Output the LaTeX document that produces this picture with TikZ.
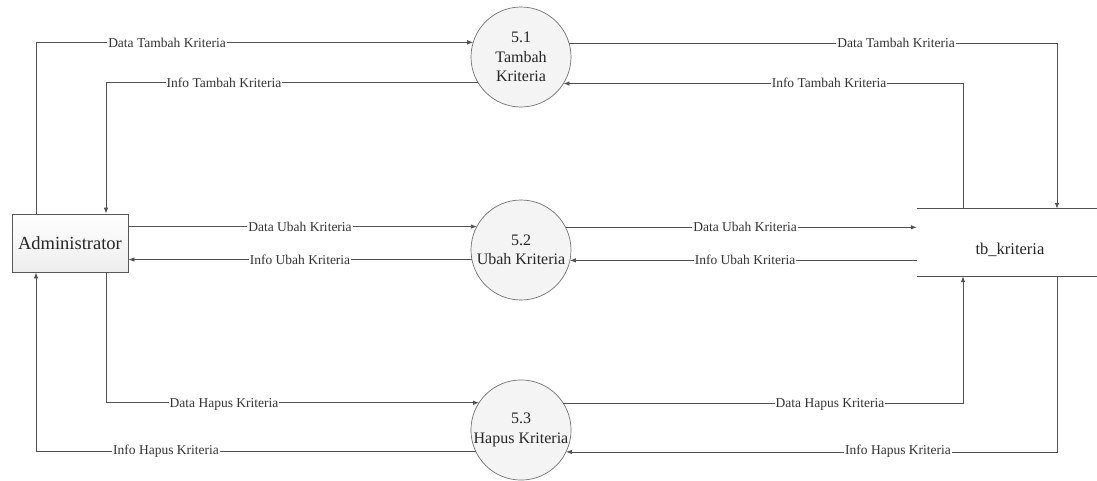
\documentclass[tikz,border=0pt]{standalone}
\usepackage{fontspec}
\setmainfont{Liberation Serif}
\newfontfamily\lserif{Liberation Serif}
\usetikzlibrary{arrows.meta,calc}
\begin{document}
\begin{tikzpicture}[x=1pt,y=-1pt,
  flow/.style={draw=black!68, line width=0.8pt, -{Latex[length=6pt,width=4.5pt]}},
  plain/.style={draw=black!68, line width=0.8pt},
  lbl/.style={fill=white, inner sep=1pt, font=\lserif\fontsize{13.5}{14}\selectfont, text=black!80},
  proc/.style={circle, draw=black!55, fill=gray!9, line width=0.7pt, inner sep=0pt, outer sep=0pt,
    align=center, font=\lserif\fontsize{16}{19.5}\selectfont, text=black!85},
  ext/.style={rectangle, draw=black!65, line width=0.8pt, top color=white, bottom color=gray!14,
    minimum width=116pt, minimum height=58pt, inner sep=0pt, font=\lserif\fontsize{18.5}{20}\selectfont, text=black!85},
  store/.style={rectangle, minimum width=180pt, minimum height=67pt, inner sep=0pt}
]
\useasboundingbox (0,0) rectangle (1097,480);
\fill[white] (0,0) rectangle (1097,480);

% nodes
\node[ext] (admin) at (70,243) {Administrator};
\node[proc, minimum size=100pt] (c1) at (521,57) {5.1\\Tambah\\Kriteria};
\node[proc, minimum size=100pt] (c2) at (521,250) {5.2\\Ubah Kriteria};
\node[proc, minimum size=98pt] (c3) at (521,430) {5.3\\Hapus Kriteria};
\node[store, label={[yshift=-7.5pt,xshift=3pt,font=\lserif\fontsize{16.5}{18}\selectfont,text=black!85]center:tb\_kriteria}] (tb) at (1007,242.5) {};
\draw[plain] (tb.north west) -- (tb.north east);
\draw[plain] (tb.south west) -- (tb.south east);

% vertical guide coordinates
\coordinate (xA) at (36,0);
\coordinate (xB) at (106,0);
\coordinate (xC) at (963,0);
\coordinate (xD) at (1057,0);

% 5.1 Tambah
\draw[flow] (admin.north -| xA) |- (c1.163.7);
\draw[flow] (c1.211.3) -| (admin.north -| xB);
\draw[flow] (c1.16.3) -| (tb.north -| xD);
\draw[flow] (tb.north -| xC) |- (c1.328.7);

% 5.2 Ubah
\draw[flow] (c2.152.6 -| admin.east) -- (c2.152.6);
\draw[flow] (c2.191.5) -- (c2.191.5 -| admin.east);
\draw[flow] (c2.27.4) -- (c2.27.4 -| tb.west);
\draw[flow] (c2.348.5 -| tb.west) -- (c2.348.5);

% 5.3 Hapus
\draw[flow] (admin.south -| xB) |- (c3.147.9);
\draw[flow] (c3.205.4) -| (admin.south -| xA);
\draw[flow] (c3.32.1) -| (tb.south -| xC);
\draw[flow] (tb.south -| xD) |- (c3.334.6);

% labels
\node[lbl] (l1) at (167,43) {Data Tambah Kriteria};
\node[lbl] (l2) at (224,83) {Info Tambah Kriteria};
\node[lbl] (l3) at (896,43) {Data Tambah Kriteria};
\node[lbl] (l4) at (829,83) {Info Tambah Kriteria};
\node[lbl] (l5) at (300,227) {Data Ubah Kriteria};
\node[lbl] (l6) at (300,260) {Info Ubah Kriteria};
\node[lbl] (l7) at (745,227) {Data Ubah Kriteria};
\node[lbl] (l8) at (745,260) {Info Ubah Kriteria};
\node[lbl] (l9) at (224,404) {Data Hapus Kriteria};
\node[lbl] (l10) at (166,451) {Info Hapus Kriteria};
\node[lbl] (l11) at (830,404) {Data Hapus Kriteria};
\node[lbl] (l12) at (898,451) {Info Hapus Kriteria};
\end{tikzpicture}
\end{document}
